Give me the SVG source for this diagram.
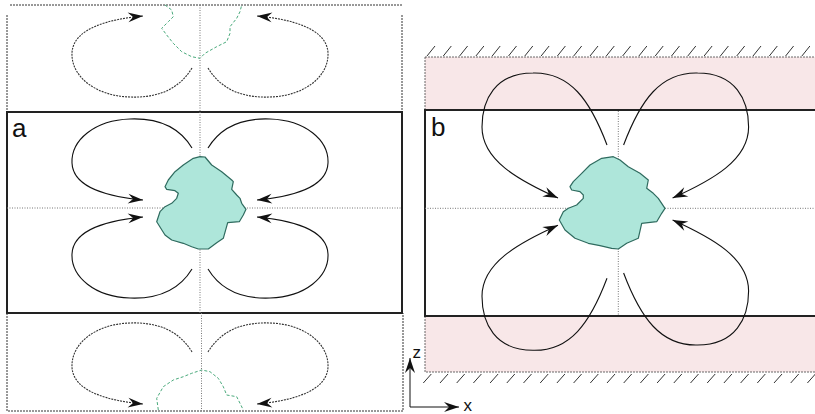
<svg xmlns="http://www.w3.org/2000/svg" width="815" height="414" viewBox="0 0 815 414">
<style>
.frame{fill:none;stroke:#222;stroke-width:2}
.dframe{fill:none;stroke:#333;stroke-width:1;stroke-dasharray:2,1}
.axis{fill:none;stroke:#777;stroke-width:1;stroke-dasharray:1,1.5}
.loop{fill:none;stroke:#111;stroke-width:1.1;marker-end:url(#ah)}
.dloop{fill:none;stroke:#333;stroke-width:1.1;stroke-dasharray:2,1;marker-end:url(#ah)}
.blob{fill:#aee6da;stroke:#2f6b5f;stroke-width:1.2;stroke-linejoin:round}
.ghost{fill:none;stroke:#4aaa7c;stroke-width:1;stroke-dasharray:3,2}
.pink{fill:#f8e7e8;stroke:#444;stroke-width:0.8;stroke-dasharray:2,1}
.hatch{fill:none;stroke:#333;stroke-width:1}
.lbl{font-family:"Liberation Sans",Arial,sans-serif;fill:#111}
</style>
<defs>
<marker id="ah" viewBox="-16 -7 17 14" markerWidth="17" markerHeight="14" refX="0" refY="0" orient="auto" markerUnits="userSpaceOnUse">
<path d="M0,0 L-15,-5 L-10,0 L-15,5 Z" fill="#111"/>
</marker>
<path id="loopA" d="M192,148 C178,125 155,118 130,119 C95,120 71,140 72,163 C73,188 110,197 143,200"/>
<path id="loopB" d="M607,145 C590,100 570,72 533,73 C495,73 482,100 482,127 C482,160 518,180 558,198"/>
</defs>

<!-- panel a -->
<g id="panel-a">
<g id="a-top-image">
<path class="dframe" d="M10,5 H402 M7,15 V111 M402,15 V111"/>
<path class="axis" d="M200,5 V111"/>
</g>
<g id="a-main">
<rect class="frame" x="7" y="112" width="395" height="201"/>
<path class="axis" d="M7,208 H402 M200,112 V313"/>
</g>
<g id="a-bottom-image">
<path class="dframe" d="M7,313 V411 H403 V313"/>
<path class="axis" d="M201.5,313 V411"/>
</g>
<text class="lbl" x="12" y="137" font-size="26">a</text>
</g>

<g id="blob-a">
<path class="blob" d="M200,156.7 L205,157 L211.7,165 L221.7,171.7 L231.7,180 L233.3,181.7 L231.7,189.3 L236.7,195 L240,198.3 L241.7,203.3 L246,209.3 L243.3,215 L239.3,221.7 L227.7,222.7 L223.3,238.3 L216.7,242.7 L208.3,249 L198.3,249 L191.7,246.7 L183.3,243.3 L171.7,240 L165,235 L156.7,221.7 L160,211.7 L165,206.7 L171.7,203.3 L176.7,198.3 L178.3,193.3 L175,190.7 L166.7,189.3 L165,186.7 L168.3,180 L175,171.7 L183.3,165 L193.3,158.3 Z"/>
</g>
<g id="ghost-top">
<path class="ghost" d="M165,5 L171.7,10 L173.3,16.7 L168.3,21.7 L161.7,28.3 L166.7,35 L173.3,43.3 L181.7,51.7 L191.7,56.7 L200,58.3 L205,53.3 L216.7,46.7 L226.7,41.7 L230,33.3 L230,26.7 L236.7,18.3 L240,11.7 L241.7,5"/>
</g>
<g id="ghost-bottom">
<path class="ghost" d="M158.3,410 L156.7,398.3 L163.3,386.7 L173.3,380 L183.3,376.7 L191.7,373.3 L201.7,370 L210,371.7 L218.3,378.3 L223.3,386.7 L226.7,395 L236.7,396.7 L240,403.3 L243.3,410"/>
</g>

<!-- panel b -->
<g id="panel-b">
<rect class="pink" x="425" y="57" width="395" height="53"/>
<rect class="pink" x="425" y="316" width="395" height="56"/>
<path class="hatch" d="M427,56 l8,-10 M443.3,56 l8,-10 M459.6,56 l8,-10 M475.9,56 l8,-10 M492.2,56 l8,-10 M508.5,56 l8,-10 M524.8,56 l8,-10 M541.1,56 l8,-10 M557.4,56 l8,-10 M573.7,56 l8,-10 M590,56 l8,-10 M606.3,56 l8,-10 M622.6,56 l8,-10 M638.9,56 l8,-10 M655.2,56 l8,-10 M671.5,56 l8,-10 M687.8,56 l8,-10 M704.1,56 l8,-10 M720.4,56 l8,-10 M736.7,56 l8,-10 M753,56 l8,-10 M769.3,56 l8,-10 M785.6,56 l8,-10 M801.9,56 l8,-10"/>
<path class="hatch" d="M423.3,383 l8,-9 M440,383 l8,-9 M456.7,383 l8,-9 M473.4,383 l8,-9 M490.1,383 l8,-9 M506.8,383 l8,-9 M523.5,383 l8,-9 M540.2,383 l8,-9 M556.9,383 l8,-9 M573.6,383 l8,-9 M590.3,383 l8,-9 M607,383 l8,-9 M623.7,383 l8,-9 M640.4,383 l8,-9 M657.1,383 l8,-9 M673.8,383 l8,-9 M690.5,383 l8,-9 M707.2,383 l8,-9 M723.9,383 l8,-9 M740.6,383 l8,-9 M757.3,383 l8,-9 M774,383 l8,-9 M790.7,383 l8,-9 M807.4,383 l8,-9"/>
<rect class="frame" x="425" y="110" width="400" height="206"/>
<path class="axis" d="M425,208.3 H815 M618.3,111 V315"/>
<text class="lbl" x="431" y="136" font-size="26">b</text>
</g>

<g id="blob-b">
<path class="blob" d="M613.3,156.7 L620,160 L628.3,166.7 L640,173.3 L648.3,180 L646.7,188.3 L653.3,193.3 L658.3,198.3 L665,208.3 L661.7,213.3 L656.7,221.7 L641.7,223.3 L638.3,238.3 L626.7,243.3 L618.3,249 L611.7,248.3 L600,245.7 L588.3,243.3 L575,238.3 L565,230 L559.3,220 L563.3,211.7 L568.3,208.3 L576.7,205 L583.3,198.3 L583.3,195 L580,191.7 L571.7,190 L570,186.7 L573.3,181.7 L581.7,173.3 L590,165 L601.7,158.3 Z"/>
</g>

<!-- connectors -->
<g id="connectors">
<use href="#loopA" class="loop"/>
<use href="#loopA" class="loop" transform="translate(400,0) scale(-1,1)"/>
<use href="#loopA" class="loop" transform="translate(0,417) scale(1,-1)"/>
<use href="#loopA" class="loop" transform="translate(400,417) scale(-1,-1)"/>
<use href="#loopA" class="dloop" transform="translate(0,216) scale(1,-1)"/>
<use href="#loopA" class="dloop" transform="translate(400,216) scale(-1,-1)"/>
<use href="#loopA" class="dloop" transform="translate(0,204)"/>
<use href="#loopA" class="dloop" transform="translate(400,204) scale(-1,1)"/>
<use href="#loopB" class="loop"/>
<use href="#loopB" class="loop" transform="translate(1230.6,0) scale(-1,1)"/>
<use href="#loopB" class="loop" transform="translate(0,423.3) scale(1,-1)"/>
<use href="#loopB" class="loop" transform="translate(1230.6,418) scale(-1,-1)"/>
</g>

<!-- axes -->
<g id="axes">
<path d="M410,407 V358" fill="none" stroke="#111" stroke-width="1" marker-end="url(#ah)"/>
<path d="M410,407 H459" fill="none" stroke="#111" stroke-width="1" marker-end="url(#ah)"/>
<text class="lbl" x="412.5" y="358" font-size="17">z</text>
<text class="lbl" x="463.5" y="410.5" font-size="17">x</text>
</g>
</svg>
